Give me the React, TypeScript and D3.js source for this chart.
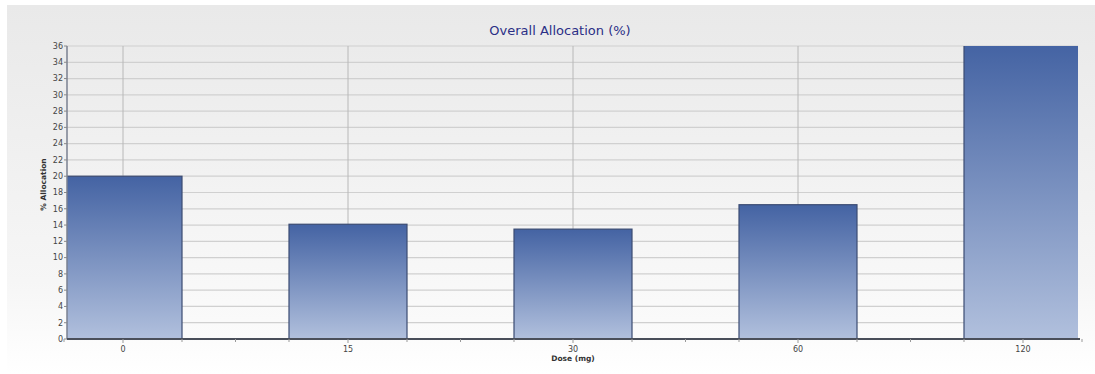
import React from "react";
import * as d3 from "d3";

const doses = ["0", "15", "30", "60", "120"];
const allocation = [20, 14.1, 13.5, 16.5, 37.8];
const yTicks = d3.range(0, 37, 2);

const W = 1095;
const H = 374;
const plot = { left: 67, right: 1078, top: 46, bottom: 339 };

export default function App() {
  const x = d3
    .scalePoint<string>()
    .domain(doses)
    .range([123, 1023]);
  const y = d3.scaleLinear().domain([0, 36]).range([plot.bottom, plot.top]);
  const barW = 118;
  const step = x.step();

  // minor x ticks: bar edges and midpoints between categories
  const xMinor: number[] = [];
  doses.forEach((d, i) => {
    const c = x(d)!;
    xMinor.push(c - barW / 2, c + barW / 2);
    if (i < doses.length - 1) xMinor.push(c + step / 2);
  });

  return (
    <svg width={W} height={H} style={{ display: "block", position: "absolute", left: 0, top: 0 }}>
      <defs>
        <linearGradient id="panelBg" x1="0" y1="0" x2="0" y2="1">
          <stop offset="0" stopColor="#e9e9e9" />
          <stop offset="0.75" stopColor="#f6f6f6" />
          <stop offset="1" stopColor="#ffffff" />
        </linearGradient>
        <linearGradient id="plotBg" x1="0" y1="0" x2="0" y2="1">
          <stop offset="0" stopColor="#ebebeb" />
          <stop offset="1" stopColor="#fbfbfb" />
        </linearGradient>
        <linearGradient id="barFill" x1="0" y1="0" x2="0" y2="1">
          <stop offset="0" stopColor="#4463a3" />
          <stop offset="1" stopColor="#b1c0dd" />
        </linearGradient>
        <clipPath id="plotClip">
          <rect x={plot.left} y={plot.top} width={plot.right - plot.left} height={plot.bottom - plot.top} />
        </clipPath>
      </defs>

      <rect x={0} y={0} width={W} height={H} fill="#ffffff" />
      <rect x={7} y={5} width={W - 7} height={H - 5} fill="url(#panelBg)" />
      <rect
        x={plot.left}
        y={plot.top}
        width={plot.right - plot.left}
        height={plot.bottom - plot.top}
        fill="url(#plotBg)"
      />

      {/* horizontal grid */}
      {yTicks.map((t) => (
        <line
          key={"g" + t}
          x1={plot.left}
          x2={plot.right}
          y1={y(t)}
          y2={y(t)}
          stroke="#d0d0d0"
          strokeWidth={1.2}
        />
      ))}
      {/* vertical grid at categories */}
      {doses.map((d) => (
        <line
          key={"v" + d}
          x1={x(d)!}
          x2={x(d)!}
          y1={plot.top}
          y2={plot.bottom}
          stroke="#b8b8b8"
          strokeWidth={1}
        />
      ))}

      {/* bars */}
      <g clipPath="url(#plotClip)">
        {doses.map((d, i) => {
          const top = y(Math.min(allocation[i], 36.2));
          return (
            <rect
              key={"b" + d}
              x={x(d)! - barW / 2}
              y={top}
              width={barW}
              height={plot.bottom - top}
              fill="url(#barFill)"
              stroke="#3b4b72"
              strokeWidth={1.2}
            />
          );
        })}
      </g>

      {/* axes */}
      <line x1={plot.left} x2={plot.left} y1={plot.top} y2={plot.bottom} stroke="#7a8090" strokeWidth={1.5} />
      <line x1={plot.left} x2={plot.right + 2} y1={plot.bottom} y2={plot.bottom} stroke="#4a4f5a" strokeWidth={1.8} />

      {yTicks.map((t) => (
        <g key={"yt" + t}>
          <line x1={plot.left - 3} x2={plot.left} y1={y(t)} y2={y(t)} stroke="#888" />
          <text
            x={plot.left - 4}
            y={y(t)}
            dy="0.35em"
            textAnchor="end"
            fontFamily="DejaVu Sans, sans-serif"
            fontSize={8}
            fill="#444"
          >
            {t}
          </text>
        </g>
      ))}

      {xMinor.map((m, i) => (
        <line key={"xm" + i} x1={m} x2={m} y1={plot.bottom} y2={plot.bottom + 3} stroke="#999" />
      ))}
      {doses.map((d) => (
        <g key={"xt" + d}>
          <line x1={x(d)!} x2={x(d)!} y1={plot.bottom} y2={plot.bottom + 4} stroke="#999" />
          <text
            x={x(d)!}
            y={plot.bottom + 13}
            textAnchor="middle"
            fontFamily="DejaVu Sans, sans-serif"
            fontSize={8}
            fill="#444"
          >
            {d}
          </text>
        </g>
      ))}

      <text
        x={573}
        y={361}
        textAnchor="middle"
        fontFamily="DejaVu Sans, sans-serif"
        fontSize={7.5}
        fontWeight="bold"
        fill="#333"
      >
        Dose (mg)
      </text>
      <text
        transform={`translate(46, ${(plot.top + plot.bottom) / 2 - 8}) rotate(-90)`}
        textAnchor="middle"
        fontFamily="DejaVu Sans, sans-serif"
        fontSize={7.5}
        fontWeight="bold"
        fill="#333"
      >
        % Allocation
      </text>

      <text
        x={560}
        y={35}
        textAnchor="middle"
        fontFamily="DejaVu Sans, sans-serif"
        fontSize={13}
        fill="#2b2f86"
      >
        Overall Allocation (%)
      </text>
    </svg>
  );
}
